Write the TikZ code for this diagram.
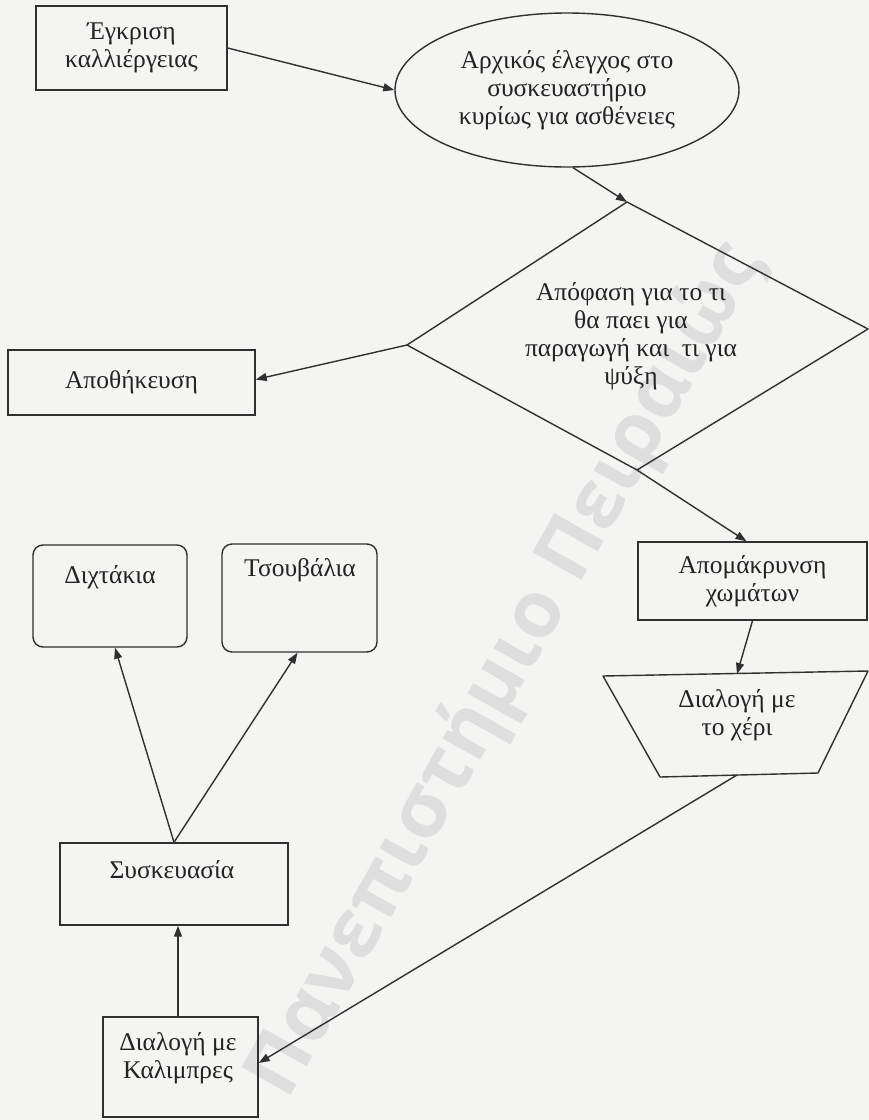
\documentclass[tikz,border=0pt]{standalone}
\usepackage{fontspec}
\setmainfont{Liberation Serif}
\newfontfamily\wmfont{Open Sans}
\usetikzlibrary{arrows.meta,shapes.geometric}
\definecolor{bgc}{RGB}{244,244,243}
\definecolor{linec}{RGB}{48,48,48}
\definecolor{txtc}{RGB}{35,35,35}
\definecolor{wmc}{RGB}{222,222,222}
\tikzset{
  every node/.style={text=txtc, font=\fontsize{25.5}{28}\selectfont},
  box/.style={draw=linec, line width=1.4pt, rectangle, inner sep=0pt, align=center},
  rbox/.style={draw=linec, line width=1.4pt, rectangle, rounded corners=10pt, inner sep=0pt},
  lbl/.style={align=center, inner sep=0pt},
  shp/.style={draw=linec, line width=1.4pt, line join=round},
  conn/.style={draw=linec, line width=1.4pt, -{Triangle[length=11pt,width=8pt]}},
}
\begin{document}
\begin{tikzpicture}[x=1pt,y=-1pt]
\fill[bgc] (0,0) rectangle (869,1120);
\useasboundingbox (0,0) rectangle (869,1120);

% watermark
\node[rotate=60.5, text=wmc, font=\wmfont\bfseries\fontsize{79}{90}\selectfont, inner sep=0pt] (wm) at (506,670) {Πανεπιστήμιο Πειραιώς};

% nodes
\node[box, minimum width=191pt, minimum height=84pt] (egk) at (131.5,48) {Έγκριση\\καλλιέργειας};
\node[draw=linec, line width=1.4pt, ellipse, minimum width=344pt, minimum height=154pt, inner sep=0pt, align=center] (elx) at (567,90) {Αρχικός έλεγχος στο\\συσκευαστήριο\\κυρίως για ασθένειες};

\coordinate (dT) at (627,202);
\coordinate (dR) at (868,329);
\coordinate (dB) at (637,470);
\coordinate (dL) at (407,345);
\draw[shp] (dT) -- (dR) -- (dB) -- (dL) -- cycle;
\node[lbl] (apof) at (631,336) {Απόφαση για το τι\\θα παει για\\παραγωγή και\ \ τι για\\ψύξη};

\node[box, minimum width=247pt, minimum height=65pt] (apoth) at (131.5,382.5) {Αποθήκευση};
\node[box, minimum width=229pt, minimum height=78pt] (apom) at (752.5,581) {Απομάκρυνση\\χωμάτων};

\coordinate (tTL) at (603,676);
\coordinate (tTR) at (868,671);
\coordinate (tBR) at (818,773);
\coordinate (tBL) at (660,777);
\coordinate (tT) at (737,674);
\coordinate (tB) at (737,775);
\draw[shp] (tTL) -- (tTR) -- (tBR) -- (tBL) -- cycle;
\node[lbl] (diax) at (737,715) {Διαλογή με\\το χέρι};

\node[rbox, minimum width=154pt, minimum height=102pt] (dix) at (110,596) {};
\node[lbl] (dixt) at (110,577) {Διχτάκια};
\node[rbox, minimum width=155pt, minimum height=108pt] (tsou) at (299.5,598) {};
\node[lbl] (tsout) at (300,570) {Τσουβάλια};

\node[box, minimum width=228pt, minimum height=82pt] (sysk) at (174,884) {};
\node[lbl] (syskt) at (172,870) {Συσκευασία};

\node[box, minimum width=155pt, minimum height=100pt] (kal) at (180.5,1067) {};
\node[lbl] (kalt) at (178,1058) {Διαλογή με\\Καλιμπρες};

% connectors
\draw[conn] (egk.east) -- (elx.west);
\draw[conn] ([xshift=6pt]elx.south) -- (dT);
\draw[conn] (dL) -- ([yshift=3pt]apoth.east);
\draw[conn] (dB) -- ([xshift=-6pt]apom.north);
\draw[conn] (apom.south) -- (tT);
\draw[conn] (tB) -- ([yshift=4pt]kal.east);
\draw[conn] ([xshift=-2.5pt]kal.north) -- ([xshift=-2.5pt]kal.north |- sysk.south);
\draw[conn] (sysk.north) -- ([xshift=5pt]dix.south);
\draw[conn] (sysk.north) -- ([xshift=-2pt]tsou.south);
\end{tikzpicture}
\end{document}
